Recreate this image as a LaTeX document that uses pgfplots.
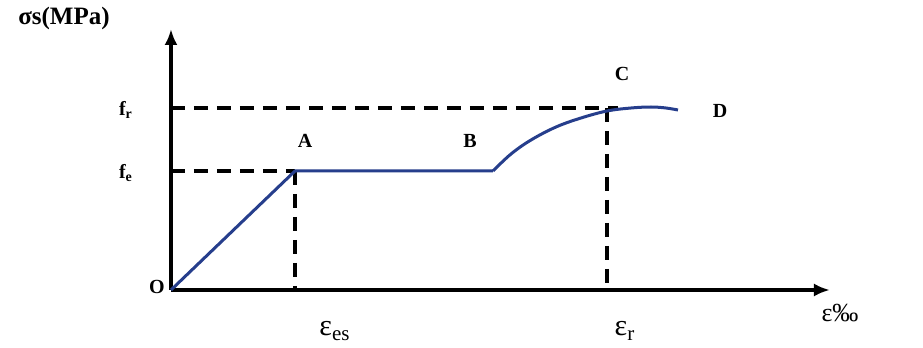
\documentclass[border=0pt]{standalone}
\usepackage{pgfplots}
\pgfplotsset{compat=1.18}
\usepackage{fontspec}
\setmainfont{Liberation Serif}
\usetikzlibrary{arrows.meta}
\definecolor{curveblue}{RGB}{38,62,140}
\tikzset{lbl/.style={font=\fontsize{10}{12}\selectfont\bfseries},
  dashln/.style={black, line width=1.9pt, dash pattern=on 7pt off 4.5pt}}
\begin{document}
\begin{tikzpicture}
\begin{axis}[
    width=329.5pt, height=130.5pt,
    scale only axis,
    xmin=0, xmax=659, ymin=0, ymax=261,
    axis lines=left,
    axis line style={line width=1.9pt, -{Latex[length=8pt,width=6.5pt]}},
    xtick=\empty, ytick=\empty,
    clip=false,
  ]
  % hilfsrahmen fuer die seitengroesse
  \path (axis cs:-171,-58) rectangle (axis cs:752,289);

  % gestrichelte hilfslinien
  \addplot[dashln] coordinates {(0,119) (124,119)};
  \addplot[dashln] coordinates {(124,119) (124,0)};
  \addplot[dashln] coordinates {(0,182) (447,182)};
  \addplot[dashln] coordinates {(436,182) (436,0)};

  % spannungs-dehnungs-kurve
  \addplot[curveblue, line width=1.5pt] coordinates {(0,0) (124,119) (322,119)};
  \addplot[curveblue, line width=1.5pt, smooth, tension=0.6] coordinates {
    (322,119) (340,136) (360,150) (385,163) (410,172) (436,179)
    (460,182) (480,183) (495,182) (507,180)};

  \node[font=\fontsize{12.5}{14}\selectfont\bfseries] at (axis cs:-107,272) {σs(MPa)};
  \node[lbl] at (axis cs:-45,180) {f\textsubscript{r}};
  \node[lbl] at (axis cs:-45,117) {f\textsubscript{e}};
  \node[lbl] at (axis cs:-14,3) {O};
  \node[lbl] at (axis cs:134,149) {A};
  \node[lbl] at (axis cs:299,149) {B};
  \node[lbl] at (axis cs:451,216) {C};
  \node[lbl] at (axis cs:549,179) {D};
  \node[font=\fontsize{15}{17}\selectfont] at (axis cs:164,-41) {ε\textsubscript{es}};
  \node[font=\fontsize{15}{17}\selectfont] at (axis cs:454,-41) {ε\textsubscript{r}};
  \node[font=\fontsize{13}{15}\selectfont] at (axis cs:669,-23) {ε‰};
\end{axis}
\end{tikzpicture}
\end{document}
